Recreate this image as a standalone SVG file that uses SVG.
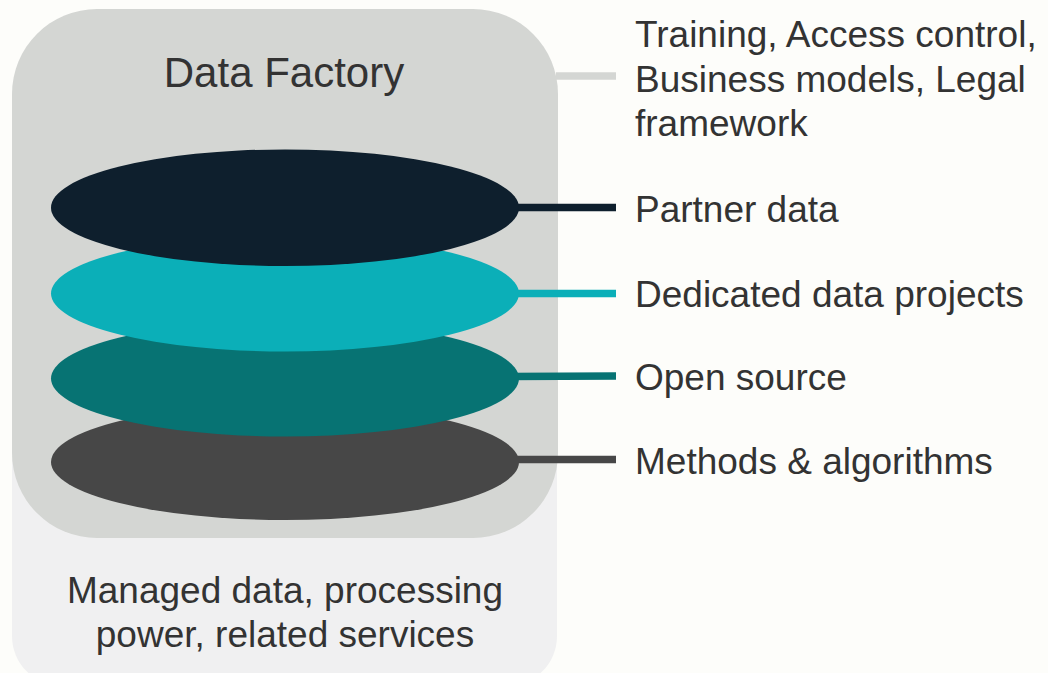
<svg xmlns="http://www.w3.org/2000/svg" width="1048" height="673" viewBox="0 0 1048 673">
  <style>
    .t { font-family: "Liberation Sans", Arial, sans-serif; fill: #333333; }
    .lbl { font-size: 37px; }
    .conn { stroke-width: 7.5; fill: none; }
  </style>
  <rect x="0" y="0" width="1048" height="673" fill="#FDFDFA"/>
  <g id="base">
    <rect x="12" y="300" width="545" height="386" rx="50" ry="50" fill="#F0F0F1"/>
    <text class="t lbl" x="285" y="603" text-anchor="middle">Managed data, processing</text>
    <text class="t lbl" x="285" y="647" text-anchor="middle">power, related services</text>
  </g>
  <g id="factory">
    <rect x="12" y="9" width="546" height="529" rx="85" ry="85" fill="#D4D6D3"/>
    <text class="t" x="284" y="87" font-size="42" text-anchor="middle">Data Factory</text>
  </g>
  <g id="connectors">
    <line class="conn" x1="556" y1="76" x2="616" y2="76" stroke="#D4D6D3"/>
    <line class="conn" x1="510" y1="207.5" x2="616" y2="207.5" stroke="#0E1F2D"/>
    <line class="conn" x1="510" y1="293.5" x2="616" y2="293.5" stroke="#0BAFB8"/>
    <line class="conn" x1="510" y1="376.5" x2="616" y2="376" stroke="#077373"/>
    <line class="conn" x1="510" y1="459.5" x2="616" y2="459.5" stroke="#474747"/>
  </g>
  <g id="methods">
    <ellipse cx="285" cy="462" rx="234" ry="58" fill="#474747"/>
  </g>
  <g id="open-source">
    <ellipse cx="285" cy="378.5" rx="234" ry="58" fill="#077373"/>
  </g>
  <g id="dedicated">
    <ellipse cx="285" cy="293.5" rx="234" ry="58" fill="#0BAFB8"/>
  </g>
  <g id="partner">
    <ellipse cx="285" cy="207.7" rx="234" ry="58.3" fill="#0E1F2D"/>
  </g>
  <g id="labels">
    <text class="t lbl" x="635" y="47">Training, Access control,</text>
    <text class="t lbl" x="635" y="92">Business models, Legal</text>
    <text class="t lbl" x="635" y="136">framework</text>
    <text class="t lbl" x="635" y="222">Partner data</text>
    <text class="t lbl" x="635" y="306.5">Dedicated data projects</text>
    <text class="t lbl" x="635" y="390">Open source</text>
    <text class="t lbl" x="635" y="474">Methods &amp; algorithms</text>
  </g>
</svg>
